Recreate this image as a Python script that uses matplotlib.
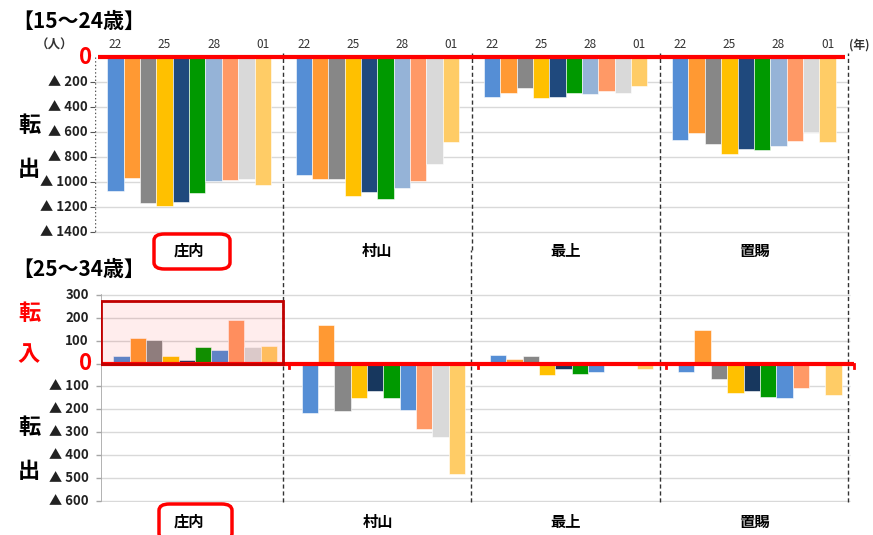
import matplotlib.pyplot as plt
from matplotlib.patches import Rectangle, FancyBboxPatch
from matplotlib.transforms import blended_transform_factory

plt.rcParams['font.family'] = ['Noto Sans CJK JP', 'DejaVu Sans']

# data
regions = ['庄内', '村山', '最上', '置賜']
years = ['22', '23', '24', '25', '26', '27', '28', '29', '30', '01']

# 15~24歳 (net, persons)
shonai_15 = [-1070, -970, -1170, -1195, -1163, -1085, -990, -980, -975, -1025]
murayama_15 = [-944, -976, -976, -1115, -1083, -1138, -1046, -995, -854, -683]
mogami_15 = [-320, -291, -251, -328, -323, -288, -296, -272, -288, -235]
okitama_15 = [-667, -605, -699, -779, -739, -747, -715, -669, -600, -680]

# 25~34歳
shonai_25 = [31, 114, 103, 35, 17, 71, 60, 192, 71, 75]
murayama_25 = [-217, 170, -207, -149, -122, -152, -204, -288, -323, -483]
mogami_25 = [36, 19, 31, -50, -26, -47, -38, -2, 7, -25]
okitama_25 = [-39, 146, -66, -131, -118, -147, -149, -105, 0, -137]

top_ticks = [200, 400, 600, 800, 1000, 1200, 1400]
bot_ticks = [300, 200, 100, -100, -200, -300, -400, -500, -600]

colors_top = ['#558ED5', '#FF9933', '#878787', '#FFC000', '#1F497D',
              '#009900', '#95B3D7', '#FF9966', '#D9D9D9', '#FFCC66']
colors_bot = ['#558ED5', '#FF9933', '#878787', '#FFC000', '#17375E',
              '#009900', '#558ED5', '#FF9966', '#D9D9D9', '#FFCC66']

W, H = 873, 535
GW = 11.5      # group width in bar units
MARGIN = 0.75

fig = plt.figure(figsize=(W / 100, H / 100), dpi=100)


def fy(py):
    return 1 - py / H


def draw_bars(ax, series, colors):
    for g, vals in enumerate(series):
        xs = [g * GW + MARGIN + i + 0.5 for i in range(len(vals))]
        ax.bar(xs, vals, width=1.0, color=colors, edgecolor='white',
               linewidth=0.4, zorder=3)


# ---------- top chart ----------
ax1 = fig.add_axes([95 / W, fy(250), 753 / W, 197 / H])
ax1.set_xlim(0, 4 * GW)
ax1.set_ylim(-1544, 32)
ax1.axis('off')

draw_bars(ax1, [shonai_15, murayama_15, mogami_15, okitama_15], colors_top)

ax1.hlines([-t for t in top_ticks], 0, 4 * GW, color='#D9D9D9', lw=1, zorder=1)
ax1.plot([0, 0], [0, -1400], color='#555555', ls=':', lw=1, zorder=2)
ax1.hlines([-t for t in top_ticks], -0.3, 0, color='#555555', lw=0.8, clip_on=False)
for k in range(1, 5):
    ax1.axvline(k * GW, color='#333333', ls=(0, (3, 2)), lw=1, zorder=4, clip_on=False)
ax1.plot([0.2, 4 * GW - 0.2], [0, 0], color='#FF0000', lw=3, zorder=5,
         solid_capstyle='butt', clip_on=False)

for t in top_ticks:
    ax1.text(-0.45, -t, '▲ %d' % t, ha='right', va='center', fontsize=9.5,
             fontweight='bold', color='#222222', clip_on=False)
ax1.text(-0.2, 0, '0', ha='right', va='center', fontsize=16, fontweight='bold',
         color='#FF0000', clip_on=False)

tr1 = blended_transform_factory(ax1.transData, fig.transFigure)
for g in range(4):
    for i in (0, 3, 6, 9):
        ax1.text(g * GW + MARGIN + i + 0.5, fy(45), years[i], transform=tr1,
                 ha='center', va='center', fontsize=8.5, color='#333333')
    ax1.text(g * GW + GW / 2, fy(251), regions[g], transform=tr1,
             ha='center', va='center', fontsize=11, fontweight='bold')

# ---------- bottom chart ----------
ax2 = fig.add_axes([101 / W, fy(502), 753 / W, 252 / H])
ax2.set_xlim(0, 4 * GW)
ax2.set_ylim(-606, 497)
ax2.axis('off')

draw_bars(ax2, [shonai_25, murayama_25, mogami_25, okitama_25], colors_bot)

ax2.hlines(bot_ticks, 0, 4 * GW - 0.25, color='#D9D9D9', lw=1, zorder=1)
ax2.plot([0, 0], [300, -600], color='#A6A6A6', lw=1.2, zorder=2)
ax2.hlines(bot_ticks + [0], -0.3, 0, color='#A6A6A6', lw=1, clip_on=False)
for k in range(1, 5):
    ax2.axvline(k * GW - 0.37, color='#333333', ls=(0, (3, 2)), lw=1, zorder=4,
                clip_on=False)
ax2.plot([0, 4 * GW], [0, 0], color='#FF0000', lw=3, zorder=5,
         solid_capstyle='butt', clip_on=False)
for k in range(1, 5):
    ax2.plot([k * GW, k * GW], [0, -18], color='#FF0000', lw=2, zorder=5, clip_on=False)

# highlighted box for 庄内
ax2.add_patch(Rectangle((0, 0), GW - 0.37, 274, facecolor='#FF0000', alpha=0.07,
                        edgecolor='none', zorder=6))
ax2.add_patch(Rectangle((0, 0), GW - 0.37, 274, facecolor='none',
                        edgecolor='#C00000', lw=2, zorder=7))

for t in bot_ticks:
    lab = '%d' % t if t > 0 else '▲ %d' % -t
    ax2.text(-0.75, t, lab, ha='right', va='center', fontsize=9.5,
             fontweight='bold', color='#222222', clip_on=False)
ax2.text(-0.55, 0, '0', ha='right', va='center', fontsize=16, fontweight='bold',
         color='#FF0000', clip_on=False)

tr2 = blended_transform_factory(ax2.transData, fig.transFigure)
for g in range(4):
    ax2.text(g * GW + GW / 2 - 0.35, fy(522), regions[g], transform=tr2,
             ha='center', va='center', fontsize=11, fontweight='bold')

# red rounded boxes around 庄内 labels
fig.patches.append(FancyBboxPatch((154 / W, fy(269)), 76 / W, 35 / H,
                                  boxstyle='round,pad=0,rounding_size=0.012',
                                  transform=fig.transFigure, facecolor='none',
                                  edgecolor='#FF0000', lw=2.5))
fig.patches.append(FancyBboxPatch((159 / W, fy(540)), 73 / W, 36 / H,
                                  boxstyle='round,pad=0,rounding_size=0.012',
                                  transform=fig.transFigure, facecolor='none',
                                  edgecolor='#FF0000', lw=2.5))

# titles and side labels
fig.text(12 / W, fy(21), '【15～24歳】', fontsize=15, fontweight='bold', va='center')
fig.text(12 / W, fy(269), '【25～34歳】', fontsize=15, fontweight='bold', va='center')
fig.text(55 / W, fy(45), '（人）', fontsize=9, fontweight='bold', ha='center',
         va='center', color='#333333')
fig.text(849 / W, fy(45), '(年)', fontsize=8.5, fontweight='bold', ha='left',
         va='center', color='#333333')

side = [('転', 126, 'black'), ('出', 170, 'black'),
        ('転', 314, '#FF0000'), ('入', 355, '#FF0000'),
        ('転', 428, 'black'), ('出', 472, 'black')]
for ch, py, c in side:
    fig.text(29 / W, fy(py), ch, fontsize=16, fontweight='bold', color=c,
             ha='center', va='center')

fig.savefig('out.png', dpi=100)
